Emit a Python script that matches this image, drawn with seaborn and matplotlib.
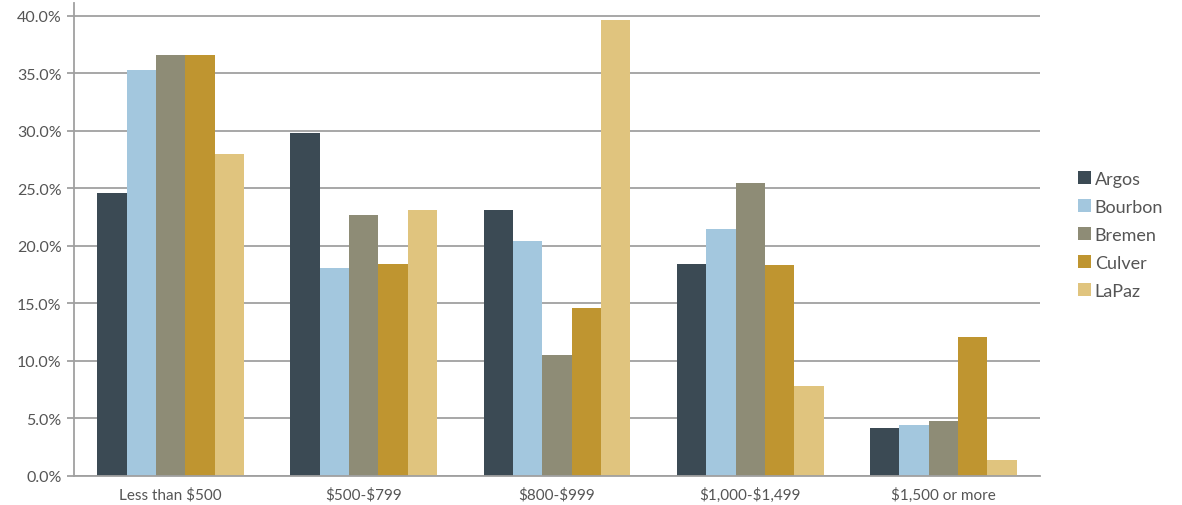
import numpy as np
import pandas as pd
import matplotlib.pyplot as plt
import seaborn as sns
from matplotlib.ticker import FuncFormatter, FixedLocator

categories = ['Less than $500', '$500-$799', '$800-$999', '$1,000-$1,499', '$1,500 or more']
argos = [24.6, 29.8, 23.1, 18.4, 4.2]
bourbon = [35.3, 18.1, 20.4, 21.5, 4.4]
bremen = [36.6, 22.7, 10.5, 25.5, 4.8]
culver = [36.6, 18.4, 14.6, 18.3, 12.1]
lapaz = [28.0, 23.1, 39.6, 7.8, 1.4]

series = {'Argos': argos, 'Bourbon': bourbon, 'Bremen': bremen, 'Culver': culver, 'LaPaz': lapaz}
colors = ['#3b4a54', '#a3c7de', '#8e8c76', '#bf9530', '#e0c47e']

rows = []
for name, vals in series.items():
    for cat, v in zip(categories, vals):
        rows.append({'category': cat, 'city': name, 'value': v})
df = pd.DataFrame(rows)

sns.set_style('white')
plt.rcParams['font.family'] = ['Lato', 'DejaVu Sans']
plt.rcParams['text.parse_math'] = False
text_color = '#555555'
grid_color = '#a0a0a0'

fig = plt.figure(figsize=(11.82, 5.06), dpi=100)
ax = fig.add_axes([74 / 1182, 29 / 506, (1040 - 74) / 1182, (477 - 4) / 506])

sns.barplot(data=df, x='category', y='value', hue='city', palette=colors,
            width=0.76, saturation=1, linewidth=0, ax=ax, legend=True)

ax.set_ylim(0, 41.1)
ax.set_xlim(-0.5, 4.5)
ax.set_yticks(np.arange(0, 41, 5))
ax.yaxis.set_major_formatter(FuncFormatter(lambda v, p: f'{v:.1f}%'))
ax.set_axisbelow(True)
ax.yaxis.grid(True, color=grid_color, linewidth=1.3)
ax.set_xlabel('')
ax.set_ylabel('')

# tick marks at group boundaries on the x axis
ax.tick_params(axis='x', which='major', length=0, labelsize=11, labelcolor=text_color, pad=8)
ax.xaxis.set_minor_locator(FixedLocator(np.arange(-0.5, 5, 1)))
ax.tick_params(axis='x', which='minor', length=5, width=1.3, color=grid_color, direction='out')
ax.tick_params(axis='y', length=5, width=1.3, color=grid_color, labelsize=11.5,
               labelcolor=text_color, pad=4, left=True)

for s in ['top', 'right']:
    ax.spines[s].set_visible(False)
for s in ['left', 'bottom']:
    ax.spines[s].set_color(grid_color)
    ax.spines[s].set_linewidth(1.3)

leg = ax.legend(loc='center left', bbox_to_anchor=(1.022, 0.51), frameon=False,
                fontsize=13, handlelength=0.75, handleheight=0.75, handletextpad=0.2,
                labelspacing=0.66)
for t in leg.get_texts():
    t.set_color(text_color)

fig.savefig('out.png', dpi=100)
